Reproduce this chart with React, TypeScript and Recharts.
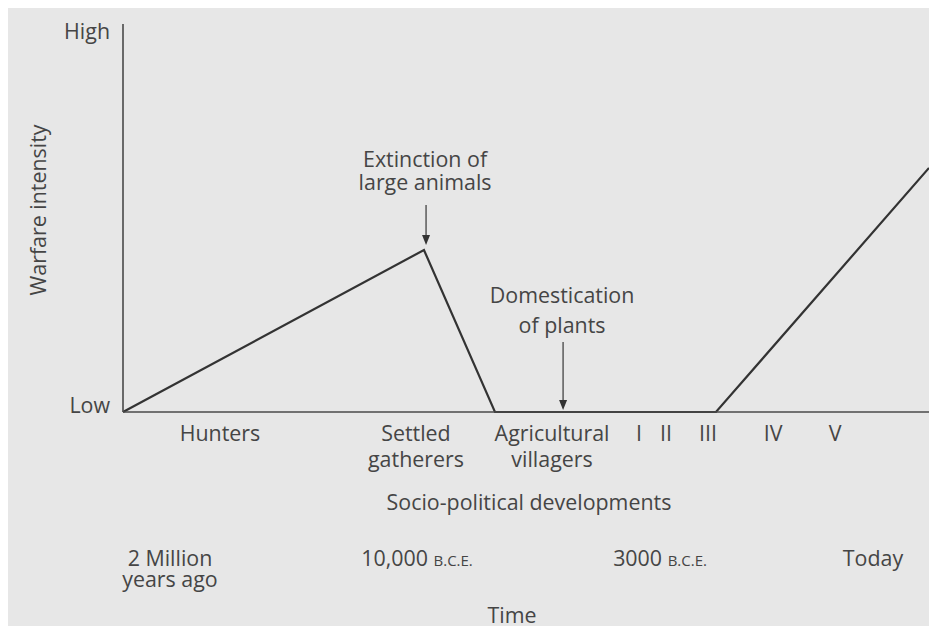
import { LineChart, Line, XAxis, YAxis, ReferenceDot } from "recharts"

// war intensity curve, x = share of the time axis (0-100), y = intensity (0-100)
const warX = [0, 37.34, 46.15, 73.57, 100]
const warY = [0, 41.75, 0, 0, 62.9]

// socio-political stages under the axis
const stageLabels = [
    ["Hunters"],
    ["Settled", "gatherers"],
    ["Agricultural", "villagers"],
    ["I"],
    ["II"],
    ["III"],
    ["IV"],
    ["V"]
]
const stageX = [12.03, 36.35, 53.23, 64.02, 67.37, 72.58, 80.65, 88.34]

// time marks
const timeLabels = [["2 Million", "years ago"], ["10,000 B.C.E."], ["3000 B.C.E."], ["Today"]]
const timeX = [5.83, 36.48, 66.63, 93.05]

// arrows with notes
const noteLabels = [["Extinction of", "large animals"], ["Domestication", "of plants"]]
const noteX = [37.6, 54.6]
const noteY = [41.75, 0]

const FONT = "'Open Sans', 'Noto Sans', sans-serif"
const INK = "#454545"
const FS = 21.4

const chartData = warX.map((x, i) => ({ x, y: warY[i] }))

// how far the note text / arrow sit above the marked point
const NOTE_GEOM = [
    { lines: [-83, -60], shaft: [-45, -5] },
    { lines: [-109, -79], shaft: [-70, -2] }
]

function renderWithCaps(str: string) {
    const idx = str.indexOf(" B.C.E.")
    if (idx < 0) return str
    return (
        <>
            {str.slice(0, idx) + " "}
            <tspan fontSize={15}>B.C.E.</tspan>
        </>
    )
}

function StageTick(props: any) {
    const { x, y, index } = props
    const lines = stageLabels[index] || []
    return (
        <g>
            {lines.map((t, i) => (
                <text key={i} x={x} y={y + 29 + i * 26} textAnchor="middle" fontFamily={FONT} fontSize={FS} fill={INK}>
                    {t}
                </text>
            ))}
        </g>
    )
}

function TimeTick(props: any) {
    const { x, y, index } = props
    const lines = timeLabels[index] || []
    return (
        <g>
            {lines.map((t, i) => (
                <text key={i} x={x} y={y + 44 + i * 21} textAnchor="middle" fontFamily={FONT} fontSize={FS} fill={INK}>
                    {renderWithCaps(t)}
                </text>
            ))}
        </g>
    )
}

function LevelTick(props: any) {
    const { y, payload } = props
    const high = payload.value >= 100
    return (
        <text x={102} y={y + (high ? 15 : 1)} textAnchor="end" fontFamily={FONT} fontSize={FS} fill={INK}>
            {high ? "High" : "Low"}
        </text>
    )
}

function Note(idx: number) {
    return (props: any) => {
        const { cx, cy } = props
        const g = NOTE_GEOM[idx]
        const [top, tip] = g.shaft
        return (
            <g>
                {noteLabels[idx].map((t, i) => (
                    <text key={i} x={cx - 1} y={cy + g.lines[i]} textAnchor="middle" fontFamily={FONT} fontSize={FS} fill={INK}>
                        {t}
                    </text>
                ))}
                <line x1={cx} x2={cx} y1={cy + top} y2={cy + tip - 8} stroke="#444" strokeWidth={1.3} />
                <polygon
                    points={`${cx - 4},${cy + tip - 10} ${cx + 4},${cy + tip - 10} ${cx},${cy + tip}`}
                    fill="#333"
                />
            </g>
        )
    }
}

export default function App() {
    return (
        <div style={{ width: 929, height: 626, background: "#fff", overflow: "hidden", position: "relative" }}>
            <style>{"html,body{margin:0;overflow:hidden}"}</style>
            <div style={{ position: "absolute", left: 8, top: 8, width: 921, height: 618, background: "#e7e7e7" }}>
                <LineChart width={921} height={618} data={chartData} margin={{ top: 16, right: 0, bottom: 0, left: 0 }}>
                    <XAxis
                        xAxisId="stage"
                        type="number"
                        dataKey="x"
                        domain={[0, 100]}
                        ticks={stageX}
                        tick={<StageTick />}
                        tickLine={false}
                        tickSize={0}
                        tickMargin={0}
                        interval={0}
                        height={110}
                        axisLine={{ stroke: "#4a4a4a", strokeWidth: 1.6 }}
                        label={(p: any) => {
                            const vb = p.viewBox
                            return (
                                <text x={vb.x + 406} y={vb.y + 98} textAnchor="middle" fontFamily={FONT} fontSize={FS} fill={INK}>
                                    Socio-political developments
                                </text>
                            )
                        }}
                    />
                    <XAxis
                        xAxisId="time"
                        type="number"
                        dataKey="x"
                        domain={[0, 100]}
                        allowDataOverflow
                        ticks={timeX}
                        tick={<TimeTick />}
                        tickLine={false}
                        tickSize={0}
                        tickMargin={0}
                        interval={0}
                        height={104}
                        axisLine={false}
                        label={(p: any) => {
                            const vb = p.viewBox
                            return (
                                <text x={vb.x + 389} y={vb.y + 101} textAnchor="middle" fontFamily={FONT} fontSize={FS} fill={INK}>
                                    Time
                                </text>
                            )
                        }}
                    />
                    <YAxis
                        type="number"
                        domain={[0, 100]}
                        ticks={[0, 100]}
                        tick={<LevelTick />}
                        tickLine={false}
                        width={115}
                        axisLine={{ stroke: "#4a4a4a", strokeWidth: 1.6 }}
                        label={() => (
                            <text
                                x={29}
                                y={202}
                                transform="rotate(-90 29 202)"
                                textAnchor="middle"
                                dominantBaseline="central"
                                fontFamily={FONT}
                                fontSize={FS}
                                fill={INK}
                            >
                                Warfare intensity
                            </text>
                        )}
                    />
                    <Line
                        xAxisId="stage"
                        type="linear"
                        dataKey="y"
                        stroke="#333"
                        strokeWidth={2.2}
                        dot={false}
                        activeDot={false}
                        isAnimationActive={false}
                    />
                    {noteX.map((nx, i) => (
                        <ReferenceDot
                            key={i}
                            xAxisId="stage"
                            x={nx}
                            y={noteY[i]}
                            r={0}
                            ifOverflow="visible"
                            shape={Note(i)}
                        />
                    ))}
                </LineChart>
            </div>
        </div>
    )
}
